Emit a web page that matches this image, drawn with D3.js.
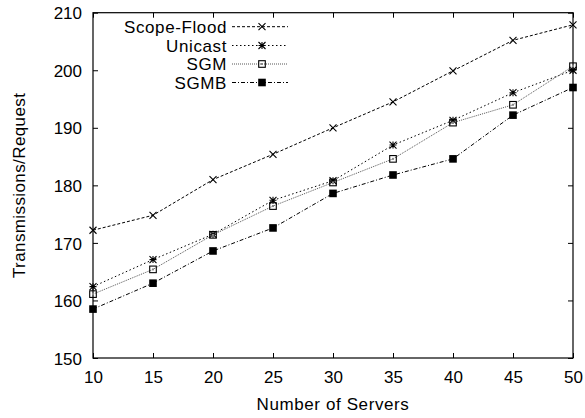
<!DOCTYPE html>
<html><head><meta charset="utf-8">
<script src="https://cdn.jsdelivr.net/npm/d3@7/dist/d3.min.js"></script>
<style>body{margin:0;background:#fff}svg{display:block}text{font-family:"Liberation Sans",Arial,sans-serif;fill:#000}</style>
</head><body>
<script>
const servers = [10, 15, 20, 25, 30, 35, 40, 45, 50];
const scopeFlood = [172.2, 174.8, 181.0, 185.4, 190.0, 194.5, 199.9, 205.2, 207.9];
const unicast = [162.4, 167.1, 171.5, 177.4, 180.8, 187.0, 191.3, 196.1, 200.0];
const sgm = [161.1, 165.4, 171.4, 176.4, 180.5, 184.6, 190.9, 194.0, 200.7];
const sgmb = [158.5, 163.0, 168.6, 172.6, 178.6, 181.8, 184.6, 192.2, 197.0];
const seriesNames = ["Scope-Flood", "Unicast", "SGM", "SGMB"];
const xTicks = [10, 15, 20, 25, 30, 35, 40, 45, 50];
const yTicks = [150, 160, 170, 180, 190, 200, 210];

const W = 585, H = 418;
const L = 93, R = 573, T = 12.7, B = 358;
const fs = 17;

const svg = d3.select("body").append("svg").attr("width", W).attr("height", H);
const x = d3.scaleLinear().domain([10, 50]).range([L, R]);
const y = d3.scaleLinear().domain([150, 210]).range([B, T]);

const styles = [
  {dash: "3,2", marker: "cross", color: "#000"},
  {dash: "1.5,2.5", marker: "star", color: "#000"},
  {dash: "1,1", marker: "box", color: "#555"},
  {dash: "4,2,1,2", marker: "fbox", color: "#000"}
];
const allData = [scopeFlood, unicast, sgm, sgmb];

// frame
svg.append("rect").attr("x", L).attr("y", T).attr("width", R - L).attr("height", B - T)
  .attr("fill", "none").attr("stroke", "#000").attr("stroke-width", 1.2);

// axes with inward ticks
const tk = 5;
svg.append("g").attr("transform", `translate(0,${B})`)
  .call(d3.axisBottom(x).tickValues(xTicks).tickSize(-tk).tickPadding(tk + 14).tickFormat(d3.format("d")))
  .call(g => g.select(".domain").remove())
  .call(g => g.selectAll("text").attr("font-size", fs).attr("dy", 0).attr("y", 25));
svg.append("g").attr("transform", `translate(0,${T})`)
  .call(d3.axisTop(x).tickValues(xTicks).tickSize(-tk).tickFormat(""))
  .call(g => g.select(".domain").remove());
svg.append("g").attr("transform", `translate(${L},0)`)
  .call(d3.axisLeft(y).tickValues(yTicks).tickSize(-tk).tickPadding(11).tickFormat(d3.format("d")))
  .call(g => g.select(".domain").remove())
  .call(g => g.selectAll("text").attr("font-size", fs).attr("dy", "0.36em"));
svg.append("g").attr("transform", `translate(${R},0)`)
  .call(d3.axisRight(y).tickValues(yTicks).tickSize(-tk).tickFormat(""))
  .call(g => g.select(".domain").remove());
svg.selectAll(".tick line").attr("stroke", "#000").attr("stroke-width", 1);

// axis titles
svg.append("text").attr("x", (L + R) / 2).attr("y", 410).attr("text-anchor", "middle")
  .attr("font-size", fs).attr("letter-spacing", 0.6).text("Number of Servers");
svg.append("text").attr("transform", `translate(25,${(T + B) / 2}) rotate(-90)`)
  .attr("text-anchor", "middle").attr("font-size", fs).attr("letter-spacing", 0.4).text("Transmissions/Request");

function drawMarker(g, type, cx, cy, color) {
  const s = 3.5;
  if (type === "cross") {
    g.append("path").attr("d", `M${cx-s},${cy-s}L${cx+s},${cy+s}M${cx-s},${cy+s}L${cx+s},${cy-s}`)
      .attr("stroke", "#000").attr("stroke-width", 1.1).attr("fill", "none");
  } else if (type === "star") {
    g.append("path").attr("d", `M${cx-s},${cy-s}L${cx+s},${cy+s}M${cx-s},${cy+s}L${cx+s},${cy-s}M${cx-s},${cy}L${cx+s},${cy}M${cx},${cy-s}L${cx},${cy+s}`)
      .attr("stroke", "#000").attr("stroke-width", 1.1).attr("fill", "none");
  } else if (type === "box") {
    g.append("rect").attr("x", cx - 3.3).attr("y", cy - 3.3).attr("width", 6.6).attr("height", 6.6)
      .attr("stroke", "#000").attr("stroke-width", 1.1).attr("fill", "none");
    g.append("rect").attr("x", cx - 1).attr("y", cy - 1).attr("width", 2).attr("height", 2).attr("fill", "#888");
  } else {
    g.append("rect").attr("x", cx - 3.8).attr("y", cy - 3.8).attr("width", 7.6).attr("height", 7.6).attr("fill", "#000");
  }
}

const line = d3.line().x((d, i) => x(servers[i])).y(d => y(d));
allData.forEach((vals, k) => {
  const st = styles[k];
  const g = svg.append("g");
  g.append("path").datum(vals).attr("d", line).attr("fill", "none")
    .attr("stroke", st.color).attr("stroke-width", 1).attr("stroke-dasharray", st.dash);
  vals.forEach((v, i) => drawMarker(g, st.marker, x(servers[i]), y(v), st.color));
});

// legend
const legY = [26.7, 45.5, 64, 82.5];
seriesNames.forEach((name, k) => {
  const st = styles[k];
  const g = svg.append("g");
  const yy = legY[k];
  g.append("text").attr("x", 227).attr("y", yy).attr("dy", "0.36em").attr("text-anchor", "end")
    .attr("font-size", fs).attr("letter-spacing", 0.6).text(name);
  g.append("line").attr("x1", 232).attr("x2", 288).attr("y1", yy).attr("y2", yy)
    .attr("stroke", st.color).attr("stroke-width", 1).attr("stroke-dasharray", st.dash);
  drawMarker(g, st.marker, 262, yy, st.color);
});
</script>
</body></html>
